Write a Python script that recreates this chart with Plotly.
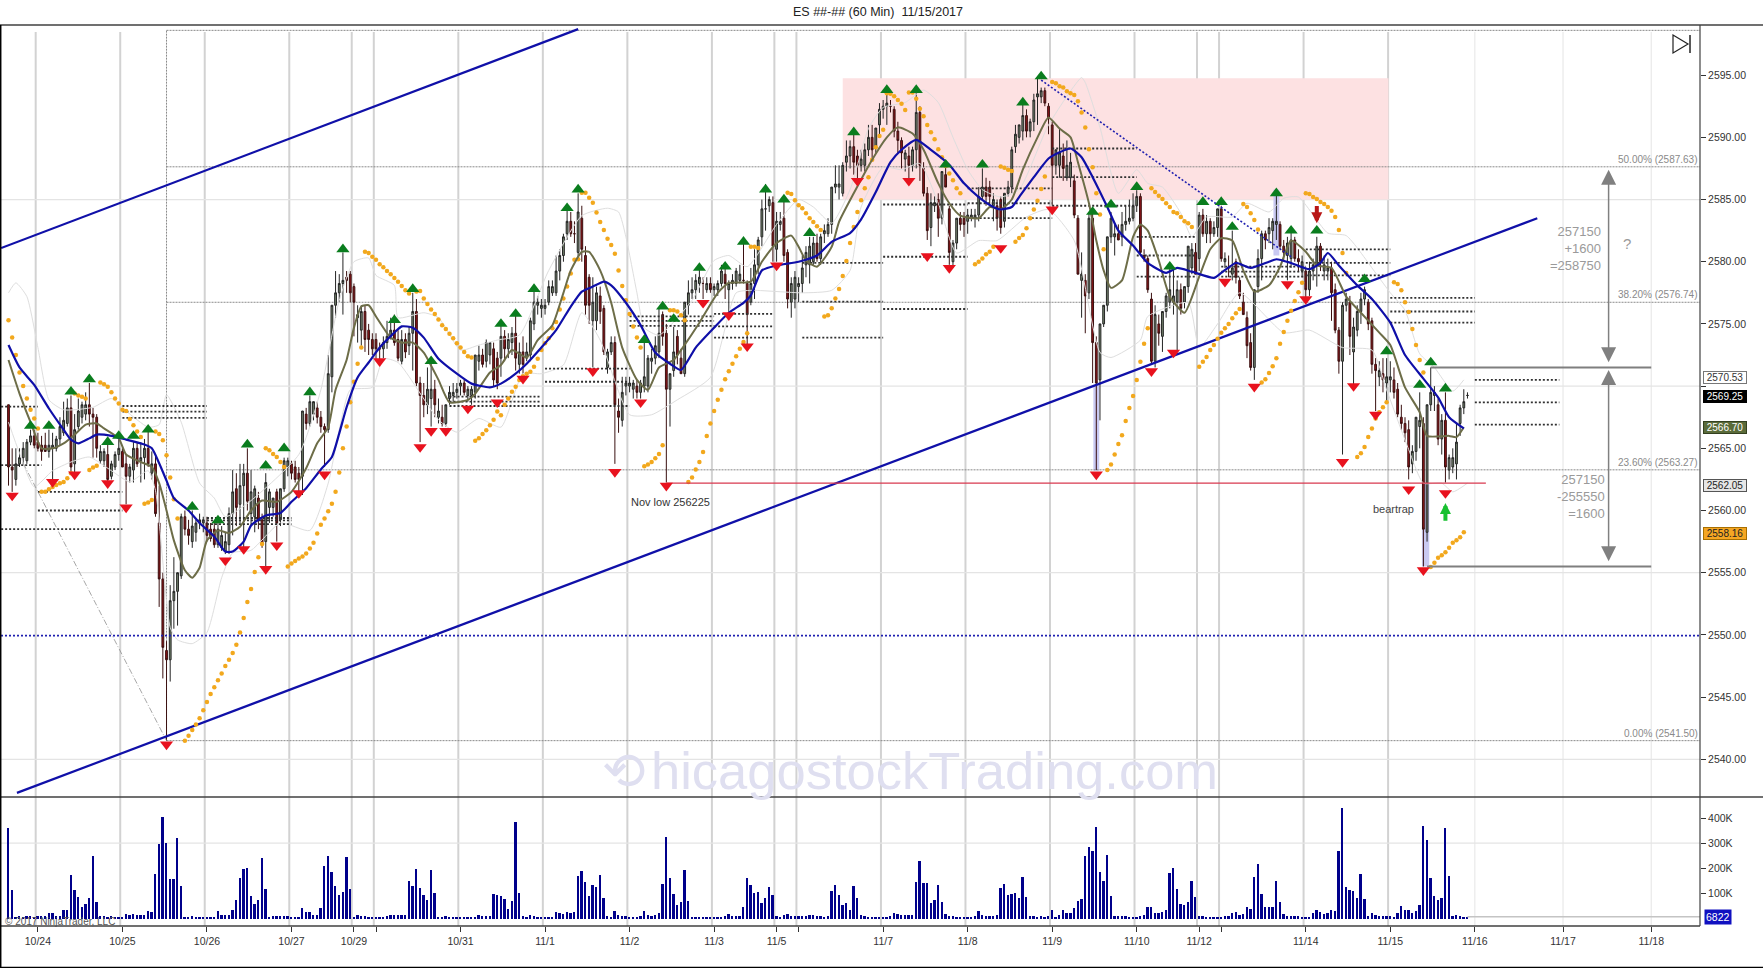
import plotly.graph_objects as go

W, H = 1763, 968
FONT = "Liberation Sans"

opens = [
2568.5,2563.5,2562.5,2563.75,2564.25,2564,2565.5,2566,2565.5,2565.25,
2565.25,2564.75,2565,2565,2565.75,2566.25,2567,2568.25,2563.75,2566.75,
2567.5,2567.75,2568.5,2567.75,2567.5,2564,2564,2564.5,2562.75,2563.5,
2564.5,2564.75,2563.75,2562.75,2563.25,2565,2564,2564.25,2565,2563,
2563.75,2559,2554.5,2548.75,2548,2552.75,2553.5,2554.75,2559.5,2558.5,
2557.5,2558.25,2559,2559,2559,2558.5,2558.5,2557.25,2557,2556.75,
2557.25,2559.75,2561.75,2560.5,2562,2563,2559.75,2559.5,2561,2559.25,
2557.5,2560.25,2560.25,2561.5,2559.25,2561.75,2563.5,2563.75,2563.5,2563,
2562.75,2567.75,2567,2567.75,2568.25,2567.5,2566.75,2566.5,2570.75,2576.5,
2577.5,2578.25,2578.75,2579,2578,2575.5,2574.5,2576,2574.5,2573.75,
2573.75,2573,2573,2573.5,2574,2574.5,2573.75,2572,2573.75,2573.25,
2574.25,2576,2570.25,2569.25,2568.5,2569,2569.75,2567.5,2567.5,2567,
2569,2569.25,2569.5,2570,2570.25,2569.25,2569.25,2569.5,2572,2572.5,
2572,2572.5,2573,2572.25,2572.25,2574,2573,2573.5,2574.25,2571.75,
2572.75,2572.25,2572.5,2575,2576.5,2576.25,2576.25,2576.75,2577.5,2577.5,
2579.25,2580.5,2582.25,2583.25,2582.25,2580.75,2583.5,2580.5,2578.75,2575.25,
2575.25,2577.25,2576.25,2571.5,2572.75,2573.5,2568,2567.25,2570,2570,
2569.75,2570,2569.5,2570,2570,2572,2572.25,2572.75,2575.75,2574.25,
2569.75,2571.25,2574,2572.25,2571,2576.5,2577.5,2577.75,2578.25,2578.25,
2577.75,2578.25,2577.75,2577.75,2578.25,2579,2577.75,2578.25,2578.25,2578.5,
2578.5,2578.25,2576.75,2578.25,2579.75,2582,2584.25,2584.5,2584.75,2581,
2583,2583.5,2580.75,2576.75,2577,2578,2578.25,2579.75,2579.75,2580,
2581.5,2580.25,2582.25,2582.25,2583,2586,2586,2585.5,2588,2588.5,
2589.25,2588.5,2587.75,2587.75,2589,2590,2589.25,2591,2592.25,2592.5,
2592.5,2592.25,2590.5,2589.75,2588.25,2588.5,2587.75,2589,2592,2587.5,
2585.5,2582.75,2584.5,2585,2583.5,2587,2584.25,2580,2581.5,2583.5,
2583.5,2583.25,2583.5,2583.5,2583.75,2585.25,2586,2586,2584.5,2584.5,
2585,2583.25,2585.5,2586,2589.25,2590,2590.5,2591.75,2590.5,2591.25,
2593.25,2593.25,2593.75,2592.5,2591,2587.75,2587.75,2588.5,2586.75,2586.75,
2586.5,2583.5,2578.5,2578.5,2577.5,2583.5,2573.5,2570.5,2575,2576.5,
2582,2582,2582.25,2582,2583,2583.25,2583.5,2584.5,2585.25,2580.5,
2580.25,2577,2572,2575,2574,2576,2576.75,2576.75,2576.75,2577.75,
2576.75,2578,2579.5,2580.75,2580.25,2583.75,2582.25,2583.25,2582.25,2582.75,
2584.25,2580,2579.5,2579,2580,2578.5,2576.75,2575.5,2573.5,2571.5,
2578,2580.25,2582.25,2582.25,2582.5,2583,2583,2581.25,2580.5,2580.25,
2581.75,2580.25,2579.25,2579.25,2577.75,2579.25,2579.75,2581.25,2579.25,2579.25,
2579.5,2577.75,2574.5,2572,2576.5,2576.75,2572.75,2574.5,2576,2577,
2576.75,2575.25,2571.75,2570.75,2571,2570.25,2570.5,2570.5,2569.75,2567.5,
2567,2566.5,2563.75,2564.75,2566.75,2567,2558.25,2568.5,2569.25,2568.5,
2565.75,2567.25,2563.25,2563.5,2563.75,2567,2568.25,2569.25]

highs = [
2568.5,2565,2565,2565,2565.5,2565.75,2566.5,2566.5,2566.25,2566,
2566.25,2566.5,2566.25,2566,2567.5,2568.75,2569,2569.25,2567.75,2569,
2568.75,2569.5,2570.25,2568.25,2567.75,2565.25,2565,2565.5,2564,2564.75,
2565.75,2565,2564.5,2563.75,2565.5,2565.5,2565.5,2565.75,2566.5,2564.75,
2564.5,2562,2555,2549.5,2554,2556.25,2555,2559.75,2560,2559.25,
2560,2559.25,2559.75,2559.5,2559.5,2559,2559,2559.5,2558.75,2558.25,
2560.25,2563.25,2563,2563.75,2563.75,2565,2563.25,2562,2561.5,2559.75,
2563,2561.75,2561,2561.75,2561.75,2564.25,2564.25,2564,2564,2563.5,
2568,2568.25,2569.25,2568.75,2568.75,2568,2567,2572.5,2576.5,2579.25,
2579,2580.75,2579.25,2579.25,2578.25,2576.5,2576.5,2576.5,2575,2574.25,
2574.25,2573.5,2574,2575.25,2575.5,2575.75,2574.5,2574.5,2574.25,2574.75,
2577.5,2577,2570.75,2570.25,2571.5,2572,2570.5,2569,2568.5,2568.5,
2570,2570.25,2570.25,2570.5,2570.5,2570,2570,2572.5,2573.25,2573,
2573.75,2573.5,2573.5,2572.75,2575,2574.5,2574.25,2574.75,2575.75,2573.5,
2574,2573.5,2575.5,2577.75,2577.25,2577,2577,2578.5,2578.5,2580.5,
2581,2582.25,2584.25,2584,2583.25,2585.5,2584.5,2581.25,2579,2578.75,
2578,2578,2576.5,2573,2574,2574,2569,2570.75,2570.75,2570.75,
2570.5,2570.5,2570.5,2573.5,2572.5,2573,2574,2576.25,2576,2575,
2571,2574.75,2574.5,2573,2576.75,2578.5,2578.75,2579,2579.5,2578.75,
2578.75,2578.75,2578.25,2578.5,2579.75,2579.5,2578.5,2579,2579.5,2579.75,
2581.5,2578.5,2579.5,2581,2582,2585,2586.25,2585.25,2585.25,2584,
2584,2585,2581,2578.75,2579.25,2578.75,2580.5,2581.25,2582,2582,
2582.25,2582.25,2583,2583.5,2586,2587.75,2587.75,2588,2589.75,2589.75,
2590.75,2589,2589,2589.5,2591,2591,2590.75,2592.75,2593,2593.5,
2593,2592.5,2591.25,2590,2589,2589.25,2589.25,2593.75,2592.5,2588,
2586,2585.5,2585.25,2585.5,2587.25,2587.75,2584.5,2581.75,2583.5,2584,
2584,2584.25,2584.25,2584.25,2586,2587.5,2586.75,2586.5,2585.5,2585,
2585.25,2585.5,2586.5,2589.25,2591,2591,2593,2592.25,2591.5,2593.5,
2594.75,2594,2594,2592.75,2591.25,2589,2590.75,2589.5,2589.75,2588.75,
2587,2583.75,2580.75,2579,2584,2584,2574,2575,2576.5,2582,
2584,2583,2583,2584,2584.5,2585,2585.5,2585.75,2585.5,2581,
2580.5,2577.5,2576.5,2575.75,2576,2577.5,2579.5,2579.5,2578.5,2578.25,
2578,2581.25,2581.5,2581.5,2584,2584.25,2583.75,2583.5,2583.25,2584.25,
2584.5,2580.75,2580.5,2582.5,2580.25,2578.75,2577.5,2576,2574.25,2577.75,
2581,2582.5,2582.5,2583.5,2583.5,2585.75,2583.25,2581.75,2582,2582.5,
2582,2581,2580.5,2579.5,2580,2580.25,2582,2581.5,2580.5,2580.25,
2580,2578.25,2574.75,2576.75,2577.5,2577.25,2575.5,2576.5,2577.5,2578,
2577,2575.5,2572.25,2572,2572.25,2572.25,2572,2571.5,2570.25,2568.5,
2567.5,2567.25,2565.25,2567.5,2569.5,2567.5,2568.5,2571.5,2570,2569,
2567.75,2569.5,2564.5,2565,2567,2568.5,2569.75,2569.5]

lows = [
2562,2561.5,2562,2563.5,2563.75,2563.75,2565.25,2565,2564.75,2564,
2564.75,2564.25,2562.5,2564.75,2565.25,2566,2566.75,2563,2563,2566.5,
2567,2567.25,2566.75,2564.25,2564.25,2563.75,2563.5,2562.25,2562.5,2563.25,
2564,2563.5,2560.5,2562.25,2562.25,2563.5,2562.25,2562.5,2563.5,2562.5,
2559.5,2552.25,2546.5,2541.5,2546.25,2550.5,2550.75,2554.5,2558,2557.25,
2557,2557.5,2558.5,2558.25,2557.5,2557.5,2557,2557,2556.75,2556.5,
2556.5,2558,2558.75,2559,2557,2560,2558.75,2558.25,2558.5,2557,
2555.5,2559,2559.5,2557.5,2558.75,2561.5,2562.75,2562.5,2562.25,2561.5,
2561.25,2566.5,2566.75,2567.25,2567,2566.25,2563.5,2566.25,2569.5,2575.5,
2576.75,2575.75,2577.5,2576.75,2574,2573.5,2573.25,2572.75,2572.5,2572.5,
2572,2572,2572.25,2573,2573.75,2573.25,2572,2571.75,2572.25,2572.5,
2571.25,2570,2565.5,2567.5,2567.75,2566.75,2567.5,2567,2566.75,2566.75,
2568.5,2568.75,2569,2569.25,2569.25,2568.75,2568.5,2569,2571.25,2571.5,
2571.5,2571.75,2570,2569.75,2570.75,2572,2572.25,2572.5,2571.25,2571,
2571,2572,2572,2574.5,2575.75,2575.5,2575.75,2576.5,2577.25,2577.25,
2578.5,2580,2581.75,2582,2581.5,2580.25,2580,2575.75,2575,2571.5,
2574.5,2575,2572.5,2571,2572.5,2563.75,2566.25,2566.75,2569.25,2569.5,
2569,2569,2569,2569.5,2569.5,2571,2571.75,2572.25,2573.25,2562.25,
2566.75,2570.75,2571.75,2571,2570.75,2575.75,2577,2577,2577.5,2577,
2577.5,2577.5,2577.25,2577.25,2578,2577,2575.75,2577.75,2578,2578.25,
2578.25,2573.25,2576.5,2577,2579,2581.25,2582.5,2584,2580,2580,
2582.5,2580,2576.25,2575.5,2576.25,2576.75,2577.5,2578.75,2578.25,2579.75,
2580,2579.75,2581.5,2582,2582.25,2585.5,2585,2585.25,2587.25,2587.5,
2587,2586.5,2587.25,2587.25,2588.5,2588.25,2588.75,2590,2591.5,2591,
2592,2590,2588.75,2587.5,2587.25,2586.5,2587.25,2587.5,2586.5,2585.25,
2581.75,2581.25,2584,2582,2583,2586,2579.75,2579.5,2581,2582.5,
2582,2582.25,2583.25,2582.75,2583.25,2585,2584.5,2584.5,2583.25,2582.5,
2582.25,2582.75,2585.25,2585.5,2588.75,2589.5,2589.75,2590,2590,2590.5,
2591,2592.75,2592.5,2590.25,2584.5,2587,2586.75,2586.5,2586.5,2586,
2583.5,2579,2575.5,2574.25,2577,2570.25,2563.25,2567.25,2574.75,2576,
2581.5,2580.5,2581.75,2581.25,2582.5,2583,2583.25,2584,2580.5,2580,
2577.5,2571.75,2571.5,2573.25,2572.75,2575.5,2576.25,2575.75,2572.75,2575.75,
2576.25,2577.5,2579,2579,2579.25,2582,2581.5,2581.5,2582,2582,
2580,2579.5,2578.75,2578.5,2578.25,2577,2575.75,2572.25,2571.25,2570.5,
2577.5,2578.5,2581,2581.5,2581,2581.75,2581,2580,2578.5,2579.5,
2580,2579.25,2578.75,2577,2577.25,2578.5,2578,2579.25,2578.5,2578.5,
2575.25,2574.25,2571,2564.5,2576,2572.5,2570,2574,2575,2576.5,
2574.5,2571,2568,2570,2569.5,2568.75,2569.5,2569,2567.5,2566.5,
2565.5,2562.5,2563,2564,2565,2555.5,2557.5,2568,2568,2565.25,
2564.5,2562.25,2562.5,2563,2562.5,2566,2567.75,2569]

closes = [
2563.5,2563.25,2563.75,2564.25,2565,2565.5,2566,2565.25,2565,2564.75,
2564.75,2565.25,2565.25,2565.75,2566.75,2567.25,2568.25,2563.5,2566.5,2568,
2568.5,2568.5,2567.75,2567.5,2565,2564.75,2564.75,2562.5,2563.75,2564.5,
2565,2563.5,2562.75,2563.5,2565,2563.75,2564.25,2565,2563.75,2563.75,
2559.75,2554.5,2549,2548,2552.75,2553.5,2555,2559.5,2558.5,2558,
2558.75,2559,2559.25,2559.25,2558,2557.75,2557.25,2558.5,2558,2557.5,
2559.75,2561.5,2560.25,2562,2563,2560.75,2561.5,2561.75,2559.25,2557.25,
2562.25,2561.5,2561,2559,2561.75,2564,2564,2563,2562.5,2562.5,
2568,2567,2568.75,2568.75,2567.5,2566.75,2566.5,2571,2576.5,2577.5,
2578.25,2578.5,2578.5,2577.5,2576.75,2575.75,2576,2573.75,2573.75,2573,
2573,2573,2573.5,2574,2574.5,2573.5,2572.25,2573.75,2572.75,2574.25,
2576,2570.25,2569.25,2568.5,2569.75,2569.75,2568.5,2568,2567,2568.5,
2569.5,2569.5,2569.75,2570.25,2569.5,2569.75,2569.75,2572.5,2572.5,2571.75,
2573.5,2573.5,2570.5,2570.25,2574,2573,2573.75,2574.25,2572.25,2572.75,
2571.75,2572.75,2575.25,2576.75,2576.75,2576.5,2576.5,2578,2578,2579.25,
2580.5,2582,2583.25,2582.25,2582.25,2584,2581,2576.5,2576.5,2576.75,
2577.5,2576,2572.75,2572.75,2573.5,2568.5,2567.5,2569.5,2570.25,2570.25,
2570.25,2569.5,2570.25,2570.75,2572.25,2572.25,2573.25,2574.25,2574,2569.75,
2571,2572.75,2572.5,2571,2576.75,2577.5,2577.75,2578.5,2578.75,2578.25,
2578.25,2577.75,2578,2578.25,2579.25,2578.25,2578.25,2578.5,2579.25,2579,
2578.5,2575.75,2578.25,2579.75,2581.75,2584.25,2584.25,2585,2581.25,2583.25,
2583.25,2580.5,2577,2578.25,2578.75,2578.25,2579.5,2580.75,2581.25,2581.5,
2580.25,2582,2582.5,2583,2586,2586.25,2586.25,2587.75,2588.5,2589.25,
2588,2587.75,2588.25,2589,2590,2589,2590.75,2592.25,2592.5,2592.75,
2592.5,2590.5,2589.75,2588.75,2588.75,2587.75,2589,2592,2587.75,2585.5,
2582.5,2584.75,2584.75,2583.5,2587.25,2586,2580.75,2581.5,2583.5,2583,
2583,2583.75,2583.75,2583.75,2585.25,2586,2585.25,2585.25,2585,2583.5,
2582.75,2585.5,2586,2589,2590.25,2591,2591.75,2590.5,2591.25,2593,
2593.5,2593.75,2592.75,2591.5,2587.75,2589,2588.75,2587.5,2587.75,2588,
2583.75,2579,2579,2577.25,2583.5,2573.5,2570.25,2575,2576.5,2582,
2583.5,2582.25,2581.75,2583,2583.25,2583.5,2584.5,2585.25,2580.75,2580.25,
2577.75,2572,2575.75,2574.25,2576,2577.25,2577.75,2577.25,2577.75,2576.25,
2578,2581.25,2581,2579,2583.75,2582.25,2583.25,2582.25,2582.75,2584.25,
2580.25,2580.25,2579.5,2579.5,2578.75,2577.25,2575.75,2573.25,2571.5,2577.75,
2580.25,2582.25,2581.75,2582.75,2583.25,2583.25,2581.25,2580.75,2581.5,2581.75,
2580.25,2580,2580,2577.75,2579.25,2579.75,2581.25,2580,2579.75,2579.5,
2577.5,2574.5,2572,2576.5,2577,2574,2574.75,2576,2577,2577.75,
2575,2571.75,2571.25,2571.25,2570.5,2570.75,2570.75,2569.5,2567.75,2567,
2566.25,2563.5,2564.75,2567.5,2567.25,2558.5,2568.5,2569.5,2569.5,2565.75,
2567.25,2563.5,2564.25,2564.25,2565.5,2568.25,2568.75,2569.25]

volumes_k = [
360,113,8,9,8,9,10,8,9,10,12,21,21,9,12,33,33,173,113,87,47,57,80,250,67,10,9,8,10,8,7,8,
17,13,20,16,13,13,30,27,176,297,404,300,157,157,320,130,7,6,10,8,7,7,8,7,7,
30,14,13,13,33,73,160,197,203,90,60,73,243,117,7,10,12,12,11,12,8,6,6,
44,27,27,16,16,44,210,250,184,130,93,107,245,117,6,13,9,9,8,6,8,7,6,9,16,14,14,13,14,
150,130,199,121,95,73,192,100,8,8,10,7,6,6,6,6,6,6,7,14,10,10,10,
99,92,89,76,40,71,385,103,9,7,13,10,8,7,6,7,6,
25,23,20,26,21,26,169,191,147,88,132,124,172,81,9,6,30,14,11,10,7,6,5,10,
30,14,9,15,24,136,324,161,99,53,67,195,71,8,8,6,5,5,5,5,5,8,10,
20,12,11,11,47,163,135,100,107,61,81,125,92,11,7,15,18,12,9,10,10,11,14,15,9,10,8,12,
108,135,95,53,63,36,129,81,14,9,8,7,8,8,8,8,10,
24,20,15,15,15,14,147,231,143,143,61,73,135,65,20,10,10,8,8,8,8,7,10,
29,15,12,12,12,14,123,139,95,96,103,81,165,84,9,11,8,9,8,9,
36,8,13,36,22,22,44,69,77,249,285,271,363,187,148,253,91,11,10,10,9,7,6,8,12,
16,47,47,24,21,25,33,183,201,117,60,55,65,151,84,9,10,8,6,6,6,6,11,11,
24,26,15,20,47,40,165,216,97,45,45,45,149,65,20,10,10,10,9,6,6,8,
24,33,26,20,22,33,31,271,440,124,113,109,80,176,76,9,21,14,10,12,10,11,8,
23,51,33,36,23,29,53,367,312,161,88,73,80,359,169,11,14,9,8,6.822]

bar_index = list(range(len(closes)))

blue_x = [0,3,7,11,15,17,19,22,24,28,32,37,39,41,43,45,49,52,56,59,61,64,66,70,74,77,81,85,88,90,92,95,98,101,105,107,110,113,117,122,126,131,134,138,141,145,149,153,156,159,162,164,168,172,176,180,183,187,192,196,200,202,205,209,215,220,224,229,232,236,240,243,247,251,256,260,264,268,270,273,275,279,283,286,289,292,295,299,302,306,310,315,318,322,328,330,334,338,343,345,349,354,357,359,362,367,371,376,380,385,389,392,396]
blue_y = [2573.3,2571.5,2570.1,2568.2,2566.5,2565.7,2565.4,2565.8,2566.1,2566,2565.7,2565.3,2565,2563.8,2562.4,2561,2560,2559,2557.9,2556.7,2556.7,2557.5,2558.8,2559.6,2559.8,2560.7,2561.8,2563.3,2564.3,2566.2,2568.3,2570.7,2571.9,2573.1,2574.3,2574.8,2574.7,2573.9,2572.2,2571,2570.2,2569.9,2570.2,2571,2571.8,2573.1,2574.5,2576.4,2577.6,2578,2578.4,2578.1,2576.7,2574.9,2572.7,2571.8,2571.3,2573.1,2574.7,2575.9,2576.7,2577.3,2579.3,2579.7,2580,2580.5,2581.6,2582.3,2583.4,2585.6,2588,2589,2589.8,2589,2587.8,2586.3,2585.2,2584.4,2584.2,2584.4,2585.2,2586.8,2588.3,2588.8,2589.1,2588.4,2586.8,2584.4,2582.5,2581.3,2579.9,2579.1,2579.5,2579.2,2578.7,2579.1,2579.9,2579.5,2580,2580.2,2579.9,2579.4,2579.9,2580.7,2579.7,2578.1,2577,2575.1,2572.5,2570.6,2569.1,2567.5,2566.6]

olive_x = [0,3,6,9,12,15,18,21,24,26,30,32,36,39,41,43,45,48,50,52,54,57,60,63,66,69,73,77,81,84,87,89,92,94,96,98,100,104,107,110,113,117,120,125,127,131,134,137,141,144,148,151,153,156,158,161,164,167,171,174,177,181,183,188,193,196,202,205,209,213,215,217,220,224,226,230,235,239,242,246,249,253,256,259,264,267,270,273,276,280,283,286,289,291,294,296,298,300,303,306,308,310,313,316,320,324,327,330,333,336,339,343,346,349,353,356,360,364,368,373,376,380,384,386,392,394,396]
olive_y = [2572.1,2569.4,2567.1,2565,2565,2565.4,2566.1,2566.9,2567,2566.6,2565.8,2564.5,2563.9,2563.5,2562.2,2560,2557.6,2555.2,2554.6,2555.4,2557.6,2558.4,2558.2,2558.7,2560,2560.8,2560.7,2561.5,2563.4,2565.4,2566.7,2569.7,2572.1,2574.7,2576.4,2576.5,2575.6,2573.9,2573.5,2573.5,2572.7,2570.5,2568.7,2568.9,2569.4,2571.1,2571.7,2572.9,2572.3,2573.7,2574.9,2577.5,2579.3,2580.8,2580.8,2579.3,2576.7,2573.1,2570.5,2569.7,2571.5,2572.1,2572.9,2575.1,2577.5,2578.3,2578.4,2580,2581.5,2582.1,2581.2,2580.1,2579.6,2581.2,2583.2,2585.5,2588.2,2590,2590.8,2590.3,2589,2586.3,2584.7,2583.7,2583.5,2584.4,2584.2,2585,2587.4,2590,2591.6,2590.7,2590,2588,2584.7,2581.7,2579.3,2577.9,2578.5,2582,2583,2582.5,2580.1,2577.2,2575.9,2578.8,2581,2581.9,2581.7,2579.3,2577.6,2578.1,2579.6,2581.7,2580.8,2579.7,2579.5,2577.2,2575.9,2574.3,2573.3,2569.9,2567.9,2566,2566,2565.9,2566.7]

upper_x = [0,2,5,8,11,15,23,28,32,38,41,43,47,52,56,59,66,79,85,90,94,98,100,105,106,113,117,123,128,133,139,147,156,163,166,168,171,173,177,186,192,196,201,209,215,219,224,229,234,238,244,249,253,257,261,265,270,275,283,292,293,297,302,307,310,314,319,322,326,333,337,343,347,351,359,364,372,376,380,384,388,393,396]
upper_y = [2577.5,2578.3,2577.2,2573.1,2568.9,2568.1,2568.3,2569,2568,2566.7,2566.9,2569.3,2567.1,2562.2,2561,2559.5,2560.8,2564.5,2569.7,2576.9,2580,2580.3,2578.9,2578.1,2575.5,2575.9,2575.5,2572.9,2573.3,2573.7,2574.1,2579.3,2583.7,2584.3,2584,2582,2577.5,2574.7,2574.1,2576.9,2580.1,2580.5,2579.6,2583,2585,2584.4,2583.1,2585.8,2590.7,2592.4,2592.8,2593.8,2592.8,2590,2587.4,2585.8,2585.2,2585.8,2591,2594.8,2594.4,2590.8,2585.5,2587.4,2586.3,2586,2583.9,2582,2583.6,2583.6,2584.7,2584,2585.1,2585.2,2582.3,2582.1,2579.1,2577.5,2576.1,2572.6,2571.5,2569.6,2570.5]

lower_x = [0,3,7,12,17,22,28,33,38,40,44,46,50,54,58,61,66,74,82,87,90,93,99,102,106,117,122,128,134,140,145,151,156,161,169,175,182,191,198,202,216,224,229,232,238,243,248,253,258,264,269,277,283,290,297,300,308,310,321,324,329,335,347,354,363,371,375,381,385,390,393,397]
lower_y = [2567.1,2564.6,2561.9,2563.2,2563.9,2564.3,2563.2,2562.3,2563.2,2561.6,2550.6,2549.6,2549.3,2550.2,2554.6,2556.6,2556.8,2559,2558.4,2562.2,2566.5,2569.7,2569.9,2572.2,2571.9,2567.3,2566.3,2567.4,2566.7,2571,2571,2571.7,2575.9,2573.7,2567.7,2567.7,2568.9,2570.7,2577.5,2577.7,2577.5,2577.7,2579.3,2584.4,2587.6,2587.4,2587.9,2584.7,2580.7,2581.7,2581.7,2583.6,2584.2,2581.7,2572.7,2572.3,2573.7,2575.6,2576.7,2573.1,2575,2577.5,2574.3,2574.5,2573.1,2572.9,2569.7,2564.9,2562.2,2562.2,2561.5,2562.2]

sar_starts = [0,9,18,22,25,37,40,48,70,76,97,111,127,134,156,173,180,185,202,212,222,239,245,263,270,274,284,299,311,324,336,341,353,367,377,387]
sar_values = [
[2575.3,2573.9,2572.5,2571.1,2570,2569,2568.1,2567.4,2566.6],
[2561.5,2561.5,2561.7,2561.9,2562.05,2562.2,2562.3,2562.6,2563],
[2569.4,2569.25,2569.15,2569],
[2563.25,2563.45,2563.6],
[2570.3,2570.15,2569.95,2569.5,2569,2568.6,2568.1,2568,2567.35,2566.85,2566.35,2565.9],
[2560.55,2560.65,2560.85],
[2566.35,2566.15,2565.65,2564.45,2562.65,2560.9,2559.35],
[2541.5,2541.9,2542.35,2542.8,2543.3,2543.95,2544.6,2545.25,2545.8,2546.35,2546.9,2547.5,2548,2548.55,2549.2,2550.2,2551.35,2552.65,2553.7,2555.05,2556.25,2557.3],
[2565,2564.85,2564.55,2564.3,2563.9,2563.5],
[2555.5,2555.75,2555.95,2556.15,2556.3,2556.55,2556.95,2557.4,2558.15,2558.85,2559.35,2559.95,2560.55,2561.5,2563.05,2565,2566.75,2568.7,2570.35,2571.8,2573.1],
[2580.8,2580.7,2580.4,2580.15,2579.8,2579.55,2579.25,2579,2578.7,2578.4,2578.05,2577.7,2577.45],
[2577.6,2577.65,2577.05,2576.6,2576.15,2575.8,2575.35,2574.9,2574.6,2574.2,2573.85,2573.45,2573.1,2572.75,2572.4,2572.3],
[2565.6,2565.8,2566.15,2566.45,2566.85,2567.3,2567.95],
[2567.65,2568.5,2569,2569.55,2569.95,2570.5,2570.8,2571,2571.15,2571.55,2572.2,2572.9,2573.45,2573.85,2574.65,2575.15,2576.15,2577.05,2578,2579.05,2580.15,2580.2],
[2585.55,2585.55,2585.15,2584.75,2583.95,2583.2,2582.55,2581.85,2581.35,2580.65,2579.3,2578.05,2576.9,2575.8,2574.8,2573.9,2573.1],
[2563.55,2563.7,2563.9,2564.2,2564.55,2565.25],
[2576.1,2576.1,2576,2575.7,2575.3],
[2562.3,2562.65,2563.3,2563.9,2564.7,2566,2567,2568,2568.9,2569.7,2570.55,2571.2,2571.8,2572.4,2573,2573.55,2574.25],
[2581.2,2581.2,2581.1],
[2585.55,2585.45,2584.95,2584.55,2584.3,2583.9,2583.5,2583.2,2582.85,2582.55],
[2575.6,2575.7,2576.25,2577.05,2577.8,2578.85,2580.05,2581.5,2582.8,2584,2584.95,2585.9,2586.8,2588.2,2589.2,2590.1,2590.6],
[2593.55,2593.5,2593.3,2593,2592.7,2592.2],
[2593.6,2593.6,2593.1,2592.3,2591.7,2591,2590.4,2589.85,2589.05,2588.4,2587.7,2587.1,2586.55,2585.9,2585.5],
[2579.8,2580,2580.25,2580.6,2580.8,2581.2],
[2587.65,2587.55,2587.4,2587.3],
[2581.6,2581.9,2582.15,2582.7,2583.5,2584.2,2584.9,2585.85,2586.85],
[2594.45,2594.35,2594.1,2594,2593.7,2593.55,2593.4,2592.9,2592,2590.8,2589.05,2587.6,2585.5,2583.8,2581],
[2563.25,2563.7,2564.5,2565.35,2566.05,2567.2,2568.25,2569.2,2570.5,2571.95,2573.4,2574.65],
[2585.9,2585.6,2585.3,2585.05,2584.7,2584.4,2584,2583.9,2583.6,2583.25,2583.1,2582.8],
[2571.55,2571.95,2572.35,2572.9,2573.3,2573.8,2574.3,2574.65,2575,2575.45,2575.85,2576.2],
[2584.65,2584.4,2583.9,2583.35,2582.6],
[2570.3,2570.55,2571.05,2571.6,2572.25,2573.4,2574.35,2575.25,2576.05,2576.85,2577.55,2578.3],
[2585.5,2585.45,2585.2,2585.05,2584.8,2584.65,2584.4,2584.1,2583.6,2582.55,2580.7,2579.1],
[2564.3,2564.6,2565.1,2565.9,2566.6,2567.4,2567.9,2568.3,2568.7],
[2578.35,2578.2,2577.7,2576.75,2575.95,2574.6,2573.3,2572.1,2571.1],
[2555.45,2555.8,2556.2,2556.4,2556.65,2557,2557.4,2557.6,2557.85,2558.25]]

up_x = [6,11,17,22,27,30,34,38,50,57,65,70,75,82,91,105,110,115,134,138,143,152,155,173,178,181,188,195,200,206,211,218,230,239,247,255,265,276,281,295,300,307,316,325,330,333,345,349,356,369,375,384,387,391]
up_y = [2566.8,2566.8,2569.55,2570.55,2565.5,2566,2566,2566.5,2560.3,2559.2,2565.3,2563.6,2565,2569.5,2581,2575.3,2577.8,2572,2575,2575.8,2577.8,2584.3,2585.8,2573.7,2576.4,2575.4,2579.5,2579.6,2581.6,2585.8,2585,2582.3,2590.4,2593.8,2593.8,2587.8,2587.8,2592.8,2594.9,2584,2584.6,2586,2579.6,2584.8,2584.8,2582.8,2585.5,2582.5,2582.5,2578.6,2572.8,2570.1,2571.9,2569.8]
down_x = [1,12,18,27,32,43,59,64,70,73,79,86,101,112,115,119,125,133,140,159,165,172,179,189,196,201,209,231,245,250,256,270,284,296,311,317,331,339,348,353,363,366,372,381,385,391]
down_y = [2561.2,2562.3,2562.9,2562.2,2560.25,2541.2,2556,2556.9,2555.3,2557.2,2561.4,2562.9,2572,2565.1,2566.4,2566.4,2568.2,2568.7,2570.6,2571.2,2563.1,2568.7,2562,2576.7,2575.7,2573.2,2579.7,2586.5,2586.5,2580.45,2579.5,2581.1,2584.2,2562.9,2571.2,2572.7,2578.4,2569.95,2578.2,2577,2563.9,2570,2567.7,2561.7,2555.2,2561.4]

level_start = [-2,-2,8,8,-2,31,31,31,54,54,54,120,120,120,146,146,169,169,169,192,192,192,216,216,216,238,238,238,261,261,261,284,284,284,307,307,307,330,330,330,353,353,353,376,376,376,399,399,399]
level_end   = [8,9,31,31,31,54,54,54,77,77,77,145,145,169,169,169,192,192,192,208,208,208,238,238,238,261,261,261,284,284,284,307,307,307,323,323,323,353,353,353,376,376,376,399,399,399,422,422,422]
level_price = [2568.35,2563.65,2561.5,2560,2558.5,2568.4,2567.95,2567.45,2559.4,2559.2,2558.9,2569.15,2568.75,2568.4,2571.4,2570.35,2575.6,2575.25,2574.85,2575.8,2574.8,2573.9,2579.9,2576.8,2573.9,2584.6,2580.4,2576.2,2585.9,2584.7,2583.5,2589.1,2586.8,2584.5,2582,2580.5,2578.8,2579.6,2579.2,2578.8,2581,2579.9,2578.9,2577.1,2576,2575.1,2570.5,2568.7,2566.9]

tick_vals = [8,31,54,77,94,100,123,146,169,192,209,215,238,261,284,307,324,330,353,376,399,423,447]
tick_text = ['10/24','10/25','10/26','10/27','10/29','','10/31','11/1','11/2','11/3','11/5','','11/7','11/8','11/9','11/10','11/12','','11/14','11/15','11/16','11/17','11/18']
price_ticks = [2540,2545,2550,2555,2560,2565,2570,2575,2580,2585,2590,2595]
price_tick_text = ['2540.00','2545.00','2550.00','2555.00','2560.00','2565.00','','2575.00','2580.00','2585.00','2590.00','2595.00']
price_grid = [2540,2555,2570,2585]
vol_ticks = [100,200,300,400]
vol_tick_text = ['100K','200K','300K','400K']

fib_levels = [2598.6,2587.63,2576.74,2563.27,2541.5]
fib_text = ['', '50.00% (2587.63)', '38.20% (2576.74)', '23.60% (2563.27)', '0.00% (2541.50)']

channel_upper_x, channel_upper_y = [-2, 155], [2581.1, 2598.7]
channel_lower_x, channel_lower_y = [2.3, 416], [2537.3, 2583.5]
falling_x, falling_y = [281, 349], [2594.6, 2580.4]
swing_x, swing_y = [4, 43], [2563.8, 2541.5]
nov_low_x, nov_low_y = [179, 402], [2562.2, 2562.2]
range_high_x, range_high_y = [387, 447], [2571.5, 2571.5]
range_low_x, range_low_y = [386, 447], [2555.5, 2555.5]

value_labels = [2570.53, 2569.25, 2566.70, 2562.05, 2558.16]
value_shift = [2, -1, 0, 0, 0]
value_fill = ['#ffffff', '#000000', '#5a6b3a', '#e6e6e6', '#f5a623']
value_ink = ['#333333', '#ffffff', '#ffffff', '#222222', '#222222']
value_edge = ['#777777', '#000000', '#33401f', '#555555', '#a86f00']

def px_x(p):
    return p / W
def px_y(p):
    return 1 - p / H

traces = []
def line(x, y, color, width, dash='solid', smooth=False):
    l = dict(color=color, width=width, dash=dash)
    if smooth:
        l.update(shape='spline', smoothing=0.55)
    traces.append(go.Scatter(x=x, y=y, mode='lines', line=l, hoverinfo='skip', showlegend=False, xaxis='x', yaxis='y'))

line(upper_x, upper_y, '#dedede', 1, smooth=True)
line(lower_x, lower_y, '#dedede', 1, smooth=True)

lx, ly = [], []
for a, b, p in zip(level_start, level_end, level_price):
    lx += [a, b, None]
    ly += [p, p, None]
line(lx, ly, '#303030', 1.8, dash='2px,2px')

line(swing_x, swing_y, '#909090', 0.8, dash='6px,2px,1px,2px')
line(channel_upper_x, channel_upper_y, '#1010a8', 2.2)
line(channel_lower_x, channel_lower_y, '#1010a8', 2.2)

sx, sy = [], []
for s, vals in zip(sar_starts, sar_values):
    for k, v in enumerate(vals):
        sx.append(s + k)
        sy.append(v)
traces.append(go.Scatter(x=sx, y=sy, mode='markers', marker=dict(color='#f2a81d', size=4.5, line=dict(width=0)),
                         hoverinfo='skip', showlegend=False))

traces.append(go.Candlestick(x=bar_index, open=opens, high=highs, low=lows, close=closes,
    increasing=dict(line=dict(color='#242424', width=1), fillcolor='#76866f'),
    decreasing=dict(line=dict(color='#3a1010', width=1), fillcolor='#8c1418'),
    whiskerwidth=0, hoverinfo='skip', showlegend=False))

line(nov_low_x, nov_low_y, '#d8394f', 1.2)
line(range_high_x, range_high_y, '#7f7f7f', 2)
line(range_low_x, range_low_y, '#7f7f7f', 2)
line(olive_x, olive_y, '#6d6d48', 2, smooth=True)
line(blue_x, blue_y, '#0f0fa8', 2.2, smooth=True)
line(falling_x, falling_y, '#2020b0', 1.6, dash='2px,2px')

traces.append(go.Scatter(x=up_x, y=up_y, mode='markers',
    marker=dict(symbol='triangle-up', color='#0a7d1e', size=11.5, line=dict(width=0)),
    hoverinfo='skip', showlegend=False))
traces.append(go.Scatter(x=down_x, y=down_y, mode='markers',
    marker=dict(symbol='triangle-down', color='#e8121e', size=11.5, line=dict(width=0)),
    hoverinfo='skip', showlegend=False))

marker_x = [461.2] * len(value_labels)
traces.append(go.Scatter(x=marker_x, y=value_labels, mode='markers', cliponaxis=False,
    marker=dict(symbol='triangle-left', size=11, color=value_fill, line=dict(color=value_edge, width=1)),
    hoverinfo='skip', showlegend=False))

traces.append(go.Bar(x=bar_index, y=volumes_k, width=0.5, marker=dict(color='#00008b', line=dict(width=0)),
                     hoverinfo='skip', showlegend=False, xaxis='x2', yaxis='y2'))
traces.append(go.Scatter(x=[397, 460.27], y=[6.822, 6.822], mode='lines', line=dict(color='#c4c4c4', width=1.5),
                         hoverinfo='skip', showlegend=False, xaxis='x2', yaxis='y2'))
traces.append(go.Scatter(x=[461.2], y=[6.822], mode='markers', cliponaxis=False, marker=dict(symbol='triangle-left', size=11, color='#1010c0'),
                         hoverinfo='skip', showlegend=False, xaxis='x2', yaxis='y2'))

shapes = []
def vshape(i, color, width):
    shapes.append(dict(type='line', xref='x', x0=i, x1=i, yref='paper', y0=px_y(32), y1=px_y(926),
                       line=dict(color=color, width=width), layer='below'))
for t in tick_vals[:-3]:
    vshape(t - 0.6, '#d2d2d2', 2)
for t in tick_vals[-3:]:
    vshape(t, '#e9e9e9', 1.2)
for p in price_grid:
    shapes.append(dict(type='line', xref='paper', x0=px_x(1), x1=px_x(1700), yref='y', y0=p, y1=p,
                       line=dict(color='#e4e4e4', width=1.2), layer='below'))
shapes.append(dict(type='line', xref='paper', x0=px_x(1), x1=px_x(1700), yref='y2', y0=300, y1=300,
                   line=dict(color='#e4e4e4', width=1.2), layer='below'))
shapes.append(dict(type='rect', xref='x', x0=227, x1=375.5, yref='y', y0=2585, y1=2594.75,
                   fillcolor='#fde1e2', line=dict(width=0), layer='below'))
for i0, i1, p0, p1 in [(295.2, 296.8, 2563.2, 2570.1), (344.2, 345.8, 2580.5, 2585.8), (384.6, 386.6, 2555.5, 2562.2)]:
    shapes.append(dict(type='rect', xref='x', x0=i0, x1=i1, yref='y', y0=p0, y1=p1,
                       fillcolor='#c9c9f2', line=dict(width=0), layer='below'))
for k, p in enumerate(fib_levels):
    shapes.append(dict(type='line', xref='x', x0=43, x1=460.27, yref='y', y0=p, y1=p,
                       line=dict(color='#8a8a8a', width=1, dash='2px,1px'), layer='below'))
shapes.append(dict(type='line', xref='x', x0=43, x1=43, yref='y', y0=2541.5, y1=2598.6,
                   line=dict(color='#8a8a8a', width=1, dash='2px,1px'), layer='below'))
shapes.append(dict(type='line', xref='paper', x0=px_x(1), x1=px_x(1700), yref='y', y0=2549.95, y1=2549.95,
                   line=dict(color='#2020b0', width=1.8, dash='2px,2px')))
for y in (25, 797):
    shapes.append(dict(type='line', xref='paper', x0=0, x1=1, yref='paper', y0=px_y(y), y1=px_y(y), line=dict(color='#404040', width=1.5)))
shapes.append(dict(type='line', xref='paper', x0=0, x1=px_x(1700), yref='paper', y0=px_y(926), y1=px_y(926), line=dict(color='#404040', width=1.5)))
shapes.append(dict(type='line', xref='paper', x0=px_x(1700), x1=px_x(1700), yref='paper', y0=px_y(25), y1=px_y(926), line=dict(color='#404040', width=1.2)))
shapes.append(dict(type='line', xref='paper', x0=0.0004, x1=0.0004, yref='paper', y0=0, y1=px_y(25), line=dict(color='#000000', width=1.5)))
shapes.append(dict(type='line', xref='paper', x0=0, x1=1, yref='paper', y0=0.0006, y1=0.0006, line=dict(color='#000000', width=1.5)))
shapes.append(dict(type='path', xref='paper', yref='paper',
    path=f"M {px_x(1673)} {px_y(35)} L {px_x(1688)} {px_y(44)} L {px_x(1673)} {px_y(53)} Z",
    line=dict(color='#222222', width=1.2), fillcolor='white'))
shapes.append(dict(type='line', xref='paper', yref='paper', x0=px_x(1690), x1=px_x(1690), y0=px_y(35), y1=px_y(53), line=dict(color='#222222', width=1.5)))

ann = []
def text(t, x, y, size=11, color='#333333', xanchor='center', yanchor='middle', align='center', xref='x', yref='y', family=FONT):
    ann.append(dict(text=t, x=x, y=y, xref=xref, yref=yref, showarrow=False, xanchor=xanchor, yanchor=yanchor,
                    align=align, font=dict(family=family, size=size, color=color)))

text('ES ##-## (60 Min)  11/15/2017', px_x(878), px_y(12), size=12.5, color='#222222', xref='paper', yref='paper')
for lab, p in zip(fib_text, fib_levels):
    if lab:
        text(lab, px_x(1700), p, size=10, color='#8a8a8a', xanchor='right', yanchor='bottom', xref='paper')
text('257150<br>+1600<br>=258750', 434, 2581.1, size=13, color='#9a9a9a', xanchor='right', align='right')
text('257150<br>-255550<br>=1600', 435, 2561.1, size=13, color='#9a9a9a', xanchor='right', align='right')
text('?', 440.4, 2581.5, size=15, color='#9a9a9a')
text('beartrap', 377, 2560.1, size=11, color='#444444')
text('Nov low 256225', 180, 2560.7, size=11, color='#333333')
text('hicagostockTrading.com', 252, 2539.1, size=52.5, color='#dfdff0')
text('⟲', 167.5, 2539.1, size=52, color='#dfdff0', family='DejaVu Sans')
text('© 2017 NinjaTrader, LLC', px_x(3), px_y(921), size=10, color='#555555', xanchor='left', xref='paper', yref='paper')

for v, s, fill, ink, edge in zip(value_labels, value_shift, value_fill, value_ink, value_edge):
    ann.append(dict(text=f'{v:.2f}', x=px_x(1725), y=v, xref='paper', yref='y', showarrow=False, yshift=s,
                    font=dict(family=FONT, size=10, color=ink), bgcolor=fill, bordercolor=edge, borderwidth=1, borderpad=0,
                    xanchor='center', yanchor='middle', width=42))
ann.append(dict(text='6822', x=px_x(1718), y=6.822, xref='paper', yref='y2', showarrow=False,
                font=dict(family=FONT, size=10.5, color='white'), bgcolor='#1010c0', borderpad=1, xanchor='center', yanchor='middle'))

def arrow(x, y, ax, ay, color, width, size=1.0, both=False):
    d = dict(text='', x=x, y=y, ax=ax, ay=ay, xref='x', yref='y', axref='x', ayref='y', showarrow=True,
             arrowhead=2, arrowcolor=color, arrowwidth=width, arrowsize=size)
    if both:
        d.update(arrowside='end+start', startarrowhead=2, startarrowsize=size)
    ann.append(d)
arrow(435.4, 2587.4, 435.4, 2571.8, '#808080', 1.5, 2.0, both=True)
arrow(435.4, 2571.3, 435.4, 2555.8, '#808080', 1.5, 2.0, both=True)
arrow(356, 2583.1, 356, 2584.6, '#b81616', 4, 0.55)
arrow(391, 2560.6, 391, 2559.05, '#18c030', 4, 0.55)

layout = go.Layout(
    width=W, height=H, margin=dict(l=0, r=0, t=0, b=0), paper_bgcolor='white', plot_bgcolor='white',
    showlegend=False, bargap=0, hovermode=False, shapes=shapes, annotations=ann,
    font=dict(family=FONT, size=11, color='#333333'),
    xaxis=dict(domain=[px_x(1), px_x(1700)], range=[-2.04, 460.27], showgrid=False, zeroline=False, showticklabels=False,
               ticks='', rangeslider=dict(visible=False), anchor='y'),
    yaxis=dict(domain=[px_y(797), px_y(25)], range=[2536.97, 2599.03], side='right', anchor='x', showgrid=False, zeroline=False,
               tickvals=price_ticks, ticktext=price_tick_text, ticks='outside', ticklen=5, tickcolor='#333333',
               tickfont=dict(family=FONT, size=10.5, color='#333333')),
    xaxis2=dict(domain=[px_x(1), px_x(1700)], range=[-2.04, 460.27], matches='x', showgrid=False, zeroline=False, anchor='y2',
                tickvals=tick_vals, ticktext=tick_text, ticks='outside', ticklen=5, tickcolor='#333333', tickangle=0,
                tickfont=dict(family=FONT, size=10.5, color='#333333')),
    yaxis2=dict(domain=[px_y(926), px_y(797)], range=[-29.6, 484], side='right', anchor='x2', showgrid=False, zeroline=False,
                tickvals=vol_ticks, ticktext=vol_tick_text, ticks='outside', ticklen=5, tickcolor='#333333',
                tickfont=dict(family=FONT, size=10.5, color='#333333')),
)

fig = go.Figure(data=traces, layout=layout)
fig.write_html("out.html", config=dict(displayModeBar=False),
               post_script="document.body.style.margin='0';document.body.style.overflow='hidden';")
